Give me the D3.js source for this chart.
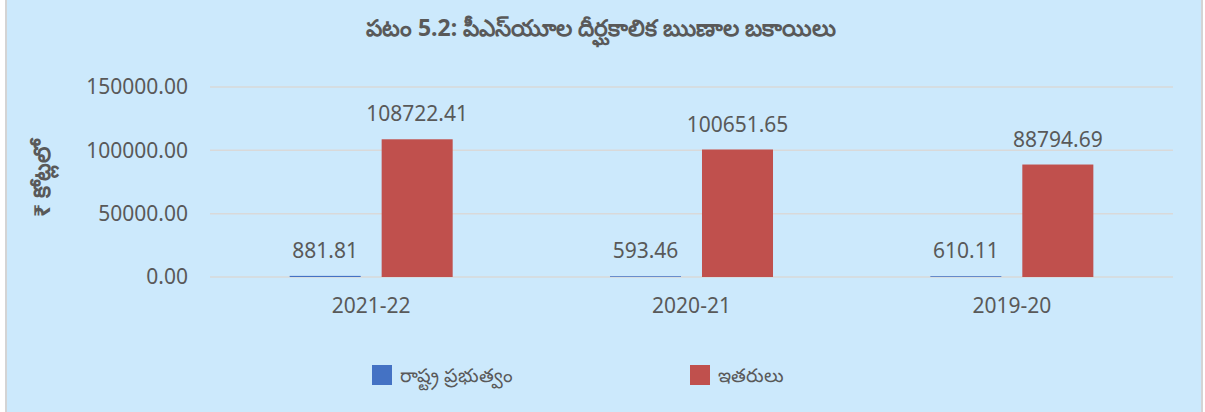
<!DOCTYPE html>
<html>
<head>
<meta charset="utf-8">
<script src="https://cdn.jsdelivr.net/npm/d3@7/dist/d3.min.js"></script>
<style>
  html, body { margin: 0; padding: 0; background: #ffffff; }
  svg { display: block; }
  text { font-family: "Noto Sans", "Open Sans", "DejaVu Sans", sans-serif; fill: #595959; }
</style>
</head>
<body>
<svg id="chart" width="1205" height="412"></svg>
<script>
// PSU long-term loan outstanding, ₹ crore
const years = ["2021-22", "2020-21", "2019-20"];
const seriesNames = ["రాష్ట్ర ప్రభుత్వం", "ఇతరులు"];
const stateGovt = [881.81, 593.46, 610.11];
const others = [108722.41, 100651.65, 88794.69];
const yTicks = [0, 50000, 100000, 150000];
const colors = ["#4472c4", "#c0504d"];

const svg = d3.select("#chart");
const W = 1205, H = 412;

// panel background with side borders
svg.append("rect").attr("x", 0).attr("y", 0).attr("width", W).attr("height", H).attr("fill", "#ffffff");
svg.append("rect").attr("x", 7).attr("y", 0).attr("width", 1194).attr("height", H).attr("fill", "#cce9fc");
svg.append("rect").attr("x", 5).attr("y", 0).attr("width", 2).attr("height", H).attr("fill", "#d4d4d4");
svg.append("rect").attr("x", 1201).attr("y", 0).attr("width", 2).attr("height", H).attr("fill", "#d4d4d4");

const plot = { left: 211, right: 1172, top: 87, bottom: 277 };

const x0 = d3.scaleBand().domain(years).range([plot.left, plot.right]);
const x1 = d3.scaleBand().domain(seriesNames).range([0, x0.bandwidth()])
  .paddingInner(0.228).paddingOuter(0.855);
const y = d3.scaleLinear().domain([0, 150000]).range([plot.bottom, plot.top]);

// gridlines
svg.append("g").selectAll("line").data(yTicks).join("line")
  .attr("x1", plot.left - 1).attr("x2", plot.right + 1)
  .attr("y1", d => y(d)).attr("y2", d => y(d))
  .attr("stroke", "#d9d9d9").attr("stroke-width", 1.5);

// y tick labels
svg.append("g").selectAll("text").data(yTicks).join("text")
  .attr("x", 188).attr("y", d => y(d)).attr("dy", "0.35em")
  .attr("text-anchor", "end").attr("font-size", 21)
  .text(d => d3.format(".2f")(d));

// x category labels
svg.append("g").selectAll("text").data(years).join("text")
  .attr("x", d => x0(d) + x0.bandwidth() / 2).attr("y", 313)
  .attr("text-anchor", "middle").attr("font-size", 21)
  .text(d => d);

// bars
const rows = years.map((yr, i) => ({ year: yr, values: [stateGovt[i], others[i]] }));
const groups = svg.append("g").selectAll("g").data(rows).join("g")
  .attr("transform", d => `translate(${x0(d.year)},0)`);

groups.selectAll("rect").data(d => d.values.map((v, k) => ({ v, k })))
  .join("rect")
  .attr("x", d => x1(seriesNames[d.k]))
  .attr("width", x1.bandwidth())
  .attr("y", d => y(d.v))
  .attr("height", d => y(0) - y(d.v))
  .attr("fill", d => colors[d.k]);

// value labels
groups.selectAll("text").data(d => d.values.map((v, k) => ({ v, k })))
  .join("text")
  .attr("x", d => x1(seriesNames[d.k]) + x1.bandwidth() / 2)
  .attr("y", d => y(d.v) - 18)
  .attr("text-anchor", "middle").attr("font-size", 21)
  .text(d => d3.format(".2f")(d.v));

// title
svg.append("text").attr("x", 601).attr("y", 36).attr("text-anchor", "middle")
  .attr("font-size", 23).attr("font-weight", "bold")
  .text("పటం 5.2: పీఎస్‌యూల దీర్ఘకాలిక ఋణాల బకాయిలు");

// y axis title
svg.append("text").attr("transform", "translate(50,178) rotate(-90)")
  .attr("text-anchor", "middle").attr("font-size", 23).attr("font-weight", "bold")
  .text("₹ కోట్లలో");

// legend
const legendX = [372, 690];
const lg = svg.append("g").selectAll("g").data(seriesNames).join("g")
  .attr("transform", (d, i) => `translate(${legendX[i]},365)`);
lg.append("rect").attr("width", 20).attr("height", 20).attr("fill", (d, i) => colors[i]);
lg.append("text").attr("x", 28).attr("y", 10).attr("dy", "0.35em").attr("font-size", 19).text(d => d);
</script>
</body>
</html>
